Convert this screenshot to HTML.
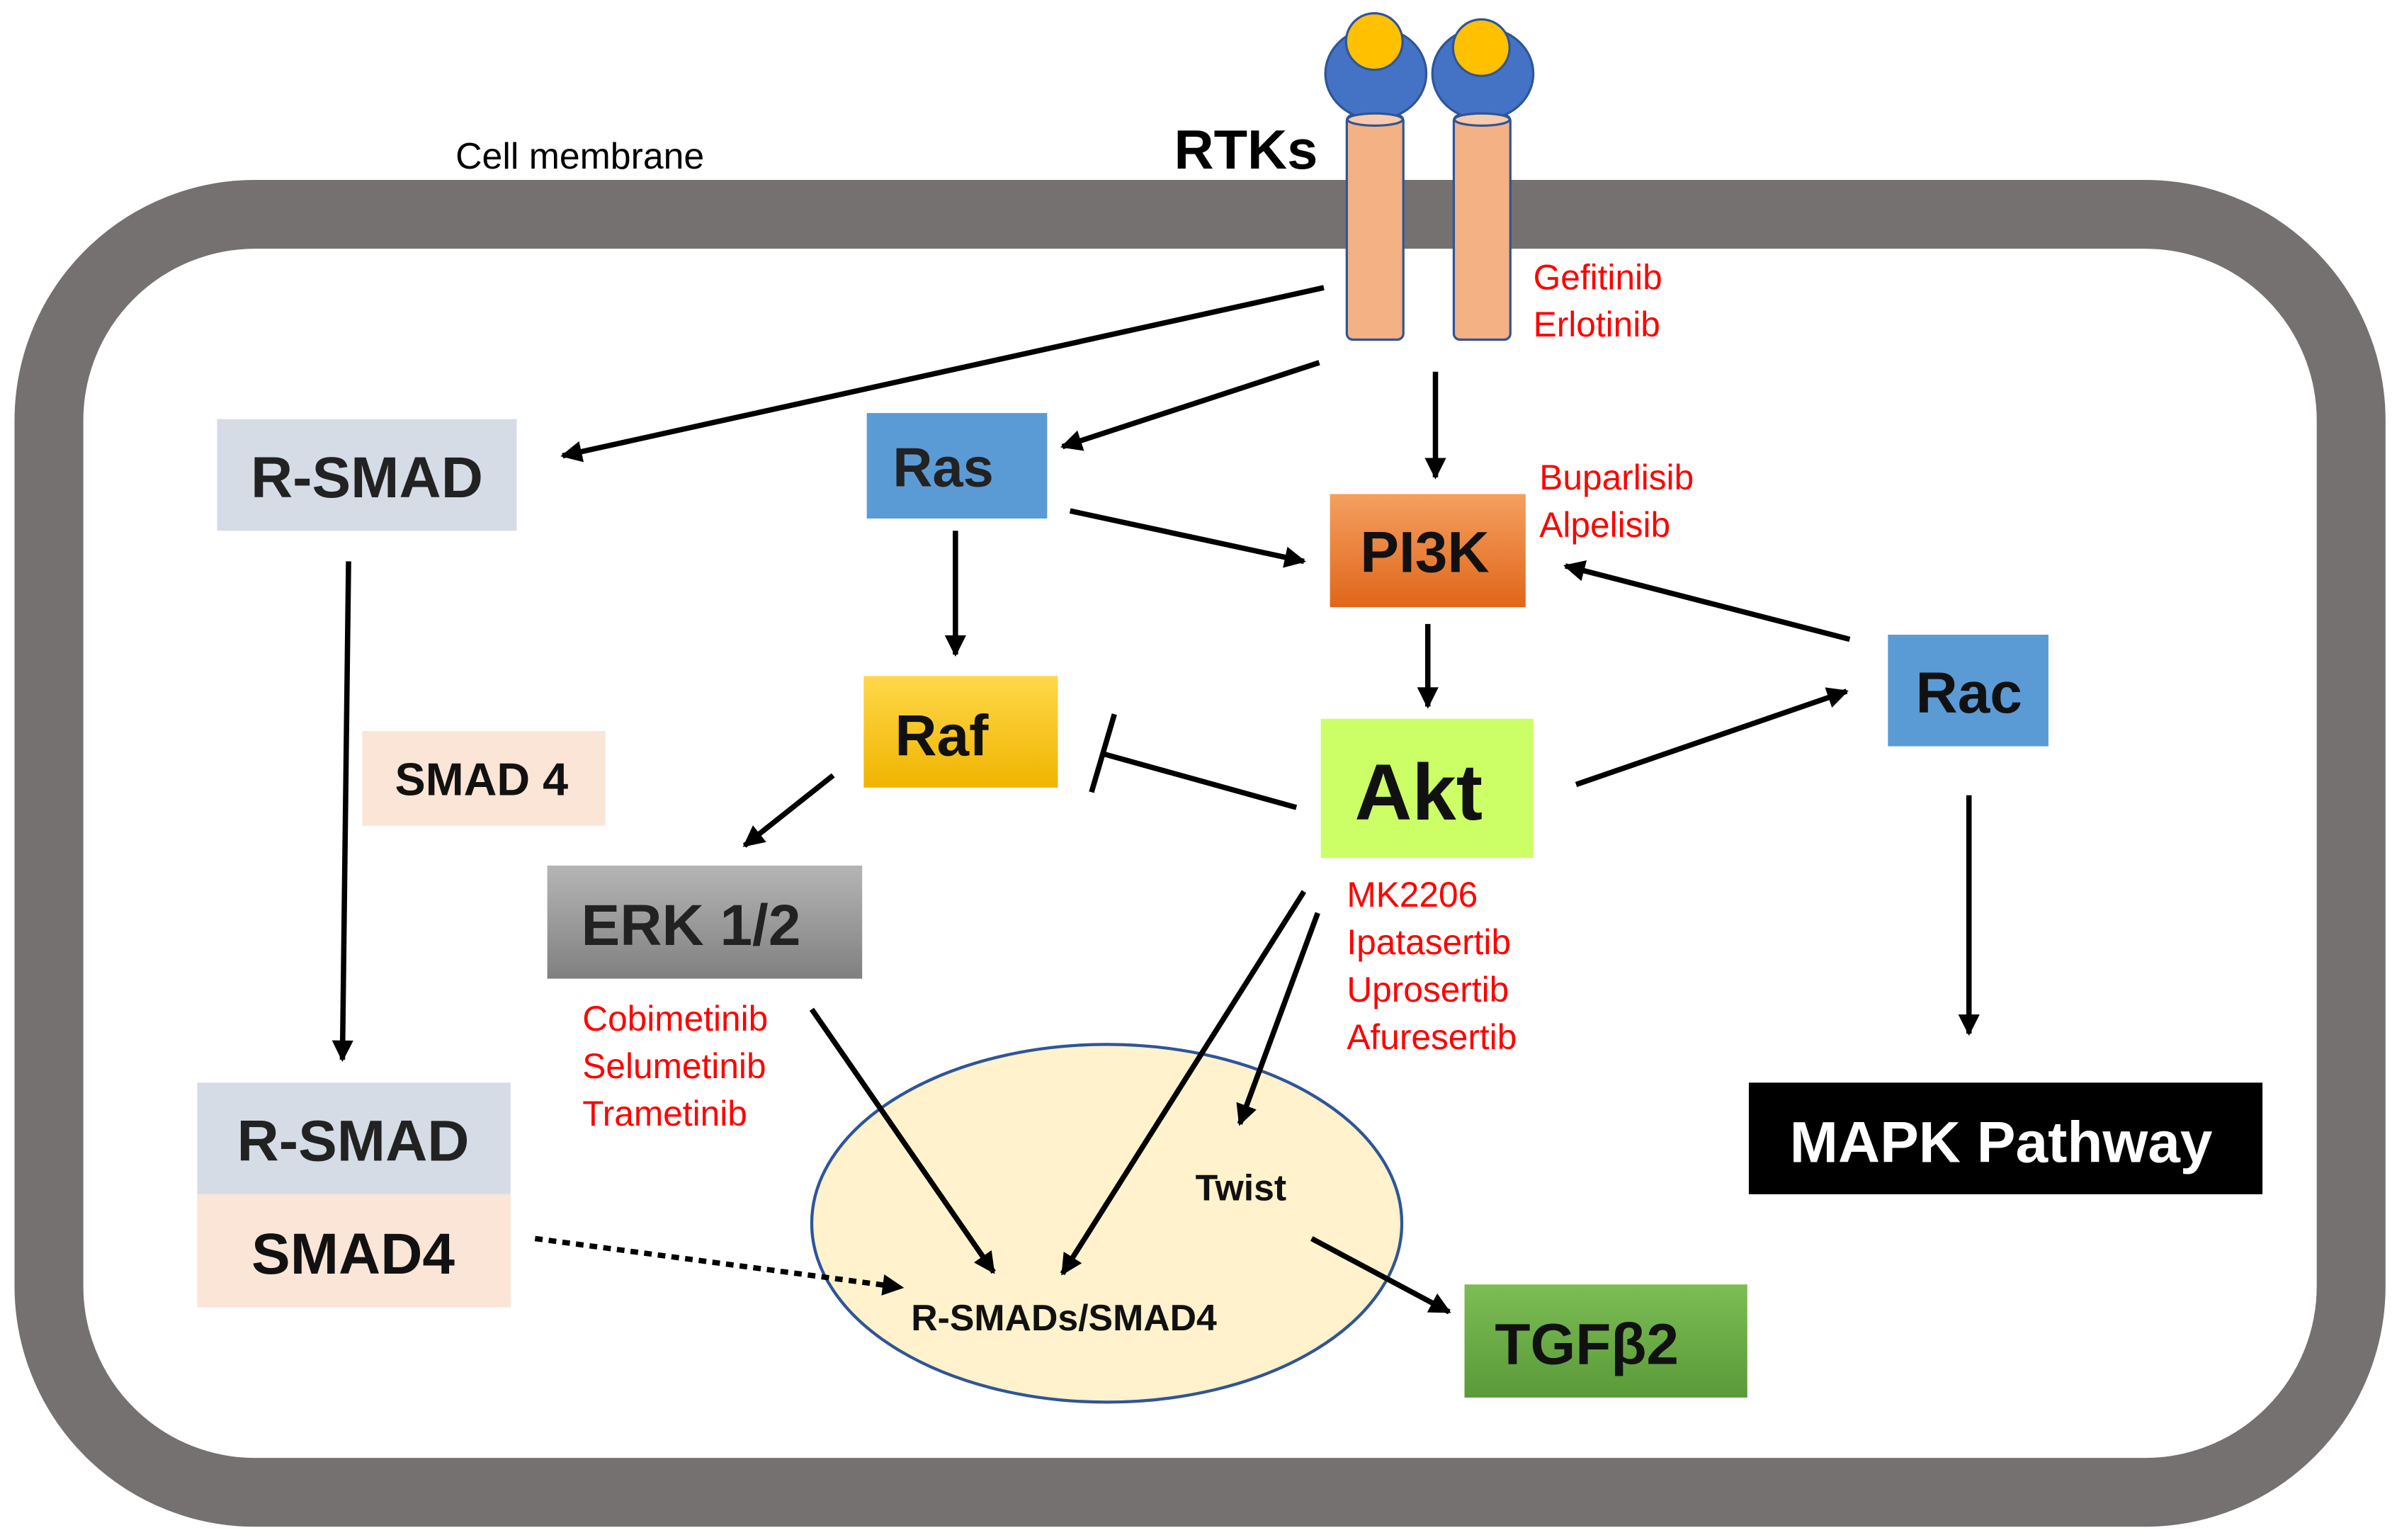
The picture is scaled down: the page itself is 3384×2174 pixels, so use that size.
<!DOCTYPE html>
<html><head><meta charset="utf-8"><style>
html,body{margin:0;padding:0;background:#fff;}
svg{display:block;}
text{font-family:"Liberation Sans",sans-serif;}
.b{font-weight:bold;}
.r{fill:#ff0000;font-size:23px;}
</style></head><body>
<svg width="3384" height="2174" viewBox="0 0 1568 1007" xmlns="http://www.w3.org/2000/svg">
<defs>
<marker id="a2" viewBox="0 0 10 10" markerWidth="16" markerHeight="14" refX="9" refY="5" orient="auto" markerUnits="userSpaceOnUse"><path d="M0,0 L10,5 L0,10 z" fill="#000"/></marker>
<linearGradient id="go" x1="0" y1="0" x2="0" y2="1"><stop offset="0" stop-color="#f4a060"/><stop offset="1" stop-color="#e0661a"/></linearGradient>
<linearGradient id="gy" x1="0" y1="0" x2="0" y2="1"><stop offset="0" stop-color="#ffd84a"/><stop offset="1" stop-color="#f0b400"/></linearGradient>
<linearGradient id="gg" x1="0" y1="0" x2="0" y2="1"><stop offset="0" stop-color="#b5b5b5"/><stop offset="1" stop-color="#808080"/></linearGradient>
<linearGradient id="gr" x1="0" y1="0" x2="0" y2="1"><stop offset="0" stop-color="#7cbd55"/><stop offset="1" stop-color="#5a9a38"/></linearGradient>
</defs>
<rect x="0" y="0" width="1568" height="1007" fill="#fff"/>
<rect x="32" y="140" width="1506" height="836" rx="135" fill="#fff" stroke="#767171" stroke-width="45"/>
<text x="298" y="110" font-size="24">Cell membrane</text>
<text x="768" y="110" font-size="36" class="b">RTKs</text>
<!-- receptors -->
<g stroke="#2f5597" stroke-width="1.5">
<rect x="881" y="75" width="37" height="147" rx="4" fill="#f4b183"/>
<rect x="951" y="75" width="37" height="147" rx="4" fill="#f4b183"/>
<ellipse cx="900" cy="48" rx="33" ry="30" fill="#4472c4"/>
<ellipse cx="970" cy="48" rx="33" ry="30" fill="#4472c4"/>
<ellipse cx="899.5" cy="78" rx="18" ry="4" fill="#f8cbad"/>
<ellipse cx="969.5" cy="78" rx="18" ry="4" fill="#f8cbad"/>
<circle cx="899" cy="27" r="18.5" fill="#ffc000"/>
<circle cx="969" cy="31" r="18.5" fill="#ffc000"/>
</g>
<text x="1003" y="189" class="r">Gefitinib</text>
<text x="1003" y="220" class="r">Erlotinib</text>
<!-- ellipse -->
<ellipse cx="724" cy="800" rx="193" ry="117" fill="#fff2cc" stroke="#2f5597" stroke-width="2"/>
<!-- boxes -->
<rect x="142" y="274" width="196" height="73" fill="#d6dce5"/>
<text x="240" y="325" font-size="38" class="b" text-anchor="middle" fill="#222">R-SMAD</text>
<rect x="567" y="270" width="118" height="69" fill="#5b9bd5"/>
<text x="617" y="318" font-size="36" class="b" text-anchor="middle" fill="#222">Ras</text>
<rect x="870" y="323" width="128" height="74" fill="url(#go)"/>
<text x="932" y="374" font-size="38" class="b" text-anchor="middle" fill="#111">PI3K</text>
<rect x="565" y="442" width="127" height="73" fill="url(#gy)"/>
<text x="616" y="494" font-size="38" class="b" text-anchor="middle" fill="#111">Raf</text>
<rect x="864" y="470" width="139" height="91" fill="#ccff66"/>
<text x="928" y="536" font-size="52" class="b" text-anchor="middle" fill="#111">Akt</text>
<rect x="1235" y="415" width="105" height="73" fill="#5b9bd5"/>
<text x="1288" y="466" font-size="38" class="b" text-anchor="middle" fill="#111">Rac</text>
<rect x="237" y="478" width="159" height="62" fill="#fbe5d6"/>
<text x="315" y="520" font-size="30" class="b" text-anchor="middle" fill="#111">SMAD 4</text>
<rect x="358" y="566" width="206" height="74" fill="url(#gg)"/>
<text x="452" y="618" font-size="38" class="b" text-anchor="middle" fill="#222">ERK 1/2</text>
<rect x="129" y="708" width="205" height="73" fill="#d6dce5"/>
<text x="231" y="759" font-size="38" class="b" text-anchor="middle" fill="#222">R-SMAD</text>
<rect x="129" y="781" width="205" height="74" fill="#fbe5d6"/>
<text x="231" y="833" font-size="38" class="b" text-anchor="middle" fill="#111">SMAD4</text>
<rect x="1144" y="708" width="336" height="73" fill="#000"/>
<text x="1309" y="760" font-size="38" class="b" text-anchor="middle" fill="#fff">MAPK Pathway</text>
<rect x="958" y="840" width="185" height="74" fill="url(#gr)"/>
<text x="1038" y="892" font-size="38" class="b" text-anchor="middle" fill="#111">TGFβ2</text>
<text x="782" y="785" font-size="24" class="b" fill="#111">Twist</text>
<text x="596" y="870" font-size="24" class="b" fill="#111">R-SMADs/SMAD4</text>
<!-- red labels -->
<text x="1007" y="320" class="r">Buparlisib</text>
<text x="1007" y="351" class="r">Alpelisib</text>
<text x="881" y="593" class="r">MK2206</text>
<text x="881" y="624" class="r">Ipatasertib</text>
<text x="881" y="655" class="r">Uprosertib</text>
<text x="881" y="686" class="r">Afuresertib</text>
<text x="381" y="674" class="r">Cobimetinib</text>
<text x="381" y="705" class="r">Selumetinib</text>
<text x="381" y="736" class="r">Trametinib</text>
<!-- arrows -->
<g stroke="#000" stroke-width="3.5" fill="none" marker-end="url(#a2)">
<line x1="866" y1="188" x2="368" y2="298"/>
<line x1="863" y1="237" x2="695" y2="292"/>
<line x1="939" y1="243" x2="939" y2="312"/>
<line x1="700" y1="334" x2="853" y2="367"/>
<line x1="625" y1="347" x2="625" y2="428"/>
<line x1="934" y1="408" x2="934" y2="462"/>
<line x1="1210" y1="418" x2="1024" y2="370"/>
<line x1="1031" y1="513" x2="1208" y2="452"/>
<line x1="545" y1="507" x2="487" y2="553"/>
<line x1="1288" y1="520" x2="1288" y2="676"/>
<line x1="228" y1="367" x2="224" y2="693"/>
<line x1="531" y1="660" x2="650" y2="832"/>
<line x1="853" y1="583" x2="695" y2="833"/>
<line x1="862" y1="597" x2="811" y2="735"/>
<line x1="858" y1="810" x2="948" y2="858"/>
<line x1="350" y1="810" x2="590" y2="842" stroke-dasharray="5,4"/>
</g>
<g stroke="#000" stroke-width="3.5">
<line x1="848" y1="528" x2="722" y2="493"/>
<line x1="714" y1="518" x2="729" y2="467"/>
</g>
</svg>
</body></html>
